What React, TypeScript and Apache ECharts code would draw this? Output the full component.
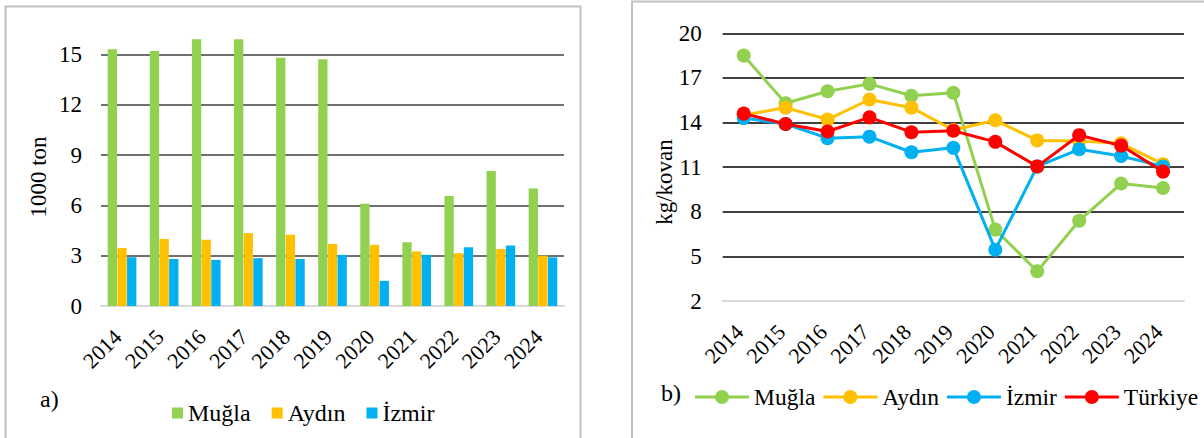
import React, { useEffect, useRef } from 'react';
import * as echarts from 'echarts';

const years = ['2014', '2015', '2016', '2017', '2018', '2019', '2020', '2021', '2022', '2023', '2024'];

// a) production, 1000 ton
const prodMugla = [15.3, 15.2, 15.9, 15.9, 14.8, 14.7, 6.1, 3.8, 6.55, 8.05, 7.0];
const prodAydin = [3.45, 4.0, 3.95, 4.35, 4.25, 3.7, 3.65, 3.25, 3.15, 3.4, 3.0];
const prodIzmir = [2.9, 2.8, 2.75, 2.85, 2.8, 3.05, 1.5, 3.05, 3.5, 3.6, 2.9];

// b) yield, kg/kovan
const yieldMugla = [18.5, 15.3, 16.1, 16.6, 15.8, 16.0, 6.8, 4.0, 7.4, 9.9, 9.6];
const yieldAydin = [14.5, 15.0, 14.2, 15.55, 15.0, 13.5, 14.15, 12.8, 12.75, 12.6, 11.2];
const yieldIzmir = [14.3, 13.9, 12.95, 13.05, 12.0, 12.3, 5.45, 11.05, 12.2, 11.75, 11.05];
const yieldTurkiye = [14.6, 13.9, 13.4, 14.35, 13.35, 13.45, 12.7, 11.05, 13.15, 12.45, 10.7];

const names = ['Muğla', 'Aydın', 'İzmir', 'Türkiye'];
const colors = ['#92D050', '#FFC000', '#00B0F0', '#FF0000'];

const FONT = 'Liberation Serif';
const FS = 23;
const LINE_ICON = 'path://M0,5.5 L54,5.5 L54,8.5 L0,8.5 Z M27,0 A7,7 0 1,1 27,14 A7,7 0 1,1 27,0 Z';

export default function App() {
  const ref = useRef<HTMLDivElement>(null);
  useEffect(() => {
    if (!ref.current) return;
    const chart = echarts.init(ref.current, undefined, { renderer: 'svg' });
    const axisLabelX = () => ({
      rotate: 45,
      fontSize: 22,
      fontFamily: FONT,
      color: '#000',
      margin: 23,
      padding: [0, 6, 0, 0],
      interval: 0,
    });
    const lineSeries = (i: number, data: number[]) => ({
      name: names[i],
      type: 'line',
      xAxisIndex: 1,
      yAxisIndex: 1,
      data,
      symbol: 'circle',
      symbolSize: 14,
      lineStyle: { color: colors[i], width: 3 },
      itemStyle: { color: colors[i] },
      z: 2 + i,
    });
    const barSeries = (i: number, data: number[]) => ({
      name: names[i],
      type: 'bar',
      xAxisIndex: 0,
      yAxisIndex: 0,
      data,
      barWidth: 9.3,
      barGap: '4%',
      itemStyle: { color: colors[i] },
    });
    chart.setOption({
      animation: false,
      backgroundColor: '#fff',
      textStyle: { fontFamily: FONT },
      grid: [
        { left: 101, right: 640, top: 4, bottom: 132 },
        { left: 722.7, right: 20, top: 33.3, bottom: 137 },
      ],
      xAxis: [
        {
          gridIndex: 0,
          type: 'category',
          data: years,
          boundaryGap: true,
          axisTick: { show: false },
          axisLine: { lineStyle: { color: '#d9d9d9', width: 2 } },
          axisLabel: axisLabelX(),
        },
        {
          gridIndex: 1,
          type: 'category',
          data: years,
          boundaryGap: true,
          axisTick: { show: false },
          axisLine: { lineStyle: { color: '#d9d9d9', width: 2 } },
          axisLabel: axisLabelX(),
        },
      ],
      yAxis: [
        {
          gridIndex: 0,
          type: 'value',
          min: 0,
          max: 18,
          interval: 3,
          axisLine: { show: false },
          axisTick: { show: false },
          axisLabel: { fontSize: FS, fontFamily: FONT, color: '#000', margin: 19, showMaxLabel: false },
          splitLine: { show: true, showMinLine: false, showMaxLine: false, lineStyle: { color: '#404040', width: 1.5 } },
        },
        {
          gridIndex: 1,
          type: 'value',
          min: 2,
          max: 20,
          interval: 3,
          axisLine: { show: false },
          axisTick: { show: false },
          axisLabel: { fontSize: FS, fontFamily: FONT, color: '#000', margin: 21 },
          splitLine: { show: true, showMinLine: false, lineStyle: { color: '#000', width: 1.5 } },
        },
      ],
      legend: [
        {
          data: names.slice(0, 3).map((n, i) => ({ name: n, icon: 'rect', itemStyle: { color: colors[i] } })),
          left: 167,
          top: 396,
          width: 400,
          itemWidth: 11,
          itemHeight: 11,
          itemGap: 21,
          textStyle: { fontSize: 24, fontFamily: FONT, color: '#000' },
          selectedMode: false,
        },
        {
          data: names.map((n, i) => ({ name: n, icon: LINE_ICON, itemStyle: { color: colors[i] } })),
          left: 690,
          top: 380,
          width: 600,
          itemWidth: 54,
          itemHeight: 14,
          itemGap: 8,
          textStyle: { fontSize: 23.5, fontFamily: FONT, color: '#000' },
          selectedMode: false,
        },
      ],
      graphic: [
        { type: 'rect', shape: { x: 5.5, y: 6.5, width: 575, height: 440 }, style: { fill: 'none', stroke: '#c0c0c0', lineWidth: 2 }, silent: true },
        { type: 'rect', shape: { x: 632, y: 1.5, width: 600, height: 450 }, style: { fill: 'none', stroke: '#c0c0c0', lineWidth: 2 }, silent: true },
        { type: 'text', x: 40, y: 399, style: { text: 'a)', fontSize: 24, fontFamily: FONT, fill: '#000', verticalAlign: 'middle', align: 'left' } },
        { type: 'text', x: 661, y: 393, style: { text: 'b)', fontSize: 24, fontFamily: FONT, fill: '#000', verticalAlign: 'middle', align: 'left' } },
        { type: 'text', x: 38, y: 177, rotation: Math.PI / 2, style: { text: '1000 ton', fontSize: FS, fontFamily: FONT, fill: '#000', verticalAlign: 'middle', align: 'center' } },
        { type: 'text', x: 664, y: 182, rotation: Math.PI / 2, style: { text: 'kg/kovan', fontSize: FS, fontFamily: FONT, fill: '#000', verticalAlign: 'middle', align: 'center' } },
      ],
      series: [
        barSeries(0, prodMugla),
        barSeries(1, prodAydin),
        barSeries(2, prodIzmir),
        lineSeries(0, yieldMugla),
        lineSeries(1, yieldAydin),
        lineSeries(2, yieldIzmir),
        lineSeries(3, yieldTurkiye),
      ],
    });
    return () => chart.dispose();
  }, []);
  return (
    <div
      ref={ref}
      style={{ position: 'absolute', left: 0, top: 0, width: 1204, height: 438, background: '#fff' }}
    />
  );
}
